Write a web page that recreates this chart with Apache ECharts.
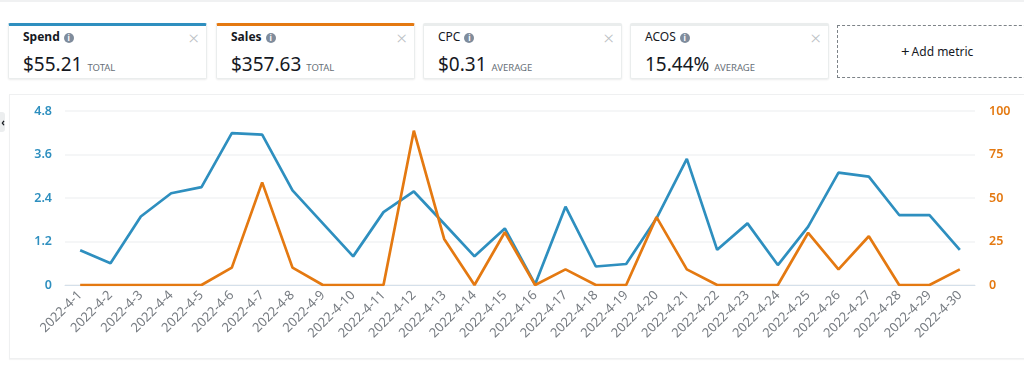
<!DOCTYPE html>
<html>
<head>
<meta charset="utf-8">
<script src="https://cdn.jsdelivr.net/npm/echarts@6/dist/echarts.min.js"></script>
<style>
	html, body { margin: 0; padding: 0; background: #fff; overflow: hidden; }
	body { width: 1024px; height: 375px; position: relative; font-family: "Noto Sans", sans-serif; color: #16191f; }
	#topLine { position: absolute; left: 0; top: 0; width: 1024px; height: 2px; background: #f0f1f2; }
	.card { position: absolute; top: 23px; width: 199px; height: 56px; box-sizing: border-box; background: #fff; border-radius: 2px; border: 1px solid #eaeded; border-top: 3px solid #eaeded; box-shadow: 0 1px 2px rgba(0,0,0,.08); }
	.card .name { position: absolute; left: 14px; top: 1px; font-size: 12px; line-height: 20px; white-space: nowrap; }
	.card .name i { display: inline-block; width: 10px; height: 10px; line-height: 10px; margin-left: 4px; border-radius: 50%; background: #7f8c9c; color: #fff; font-size: 8px; font-style: normal; text-align: center; font-weight: 700; vertical-align: 0; }
	.card .close { position: absolute; right: 7px; top: 2px; font-size: 19px; font-weight: 300; line-height: 20px; color: #bcc0c4; }
	.card .val { position: absolute; left: 14px; top: 25px; font-size: 19px; line-height: 26px; white-space: nowrap; }
	.card .val span { font-size: 9.5px; color: #687078; margin-left: 5px; }
	#addMetric { position: absolute; left: 837px; top: 25px; width: 200px; height: 53px; box-sizing: border-box; border: 1px dashed #7d8388; font-size: 12px; line-height: 51px; padding-left: 63px; }
	#addMetric b { font-size: 15px; font-weight: 400; margin-right: 2px; vertical-align: -1px; }
	#panel { position: absolute; left: 9px; top: 94px; width: 1030px; height: 265px; box-sizing: border-box; border: 1px solid #eff0f1; box-shadow: 0 1px 1px rgba(0,0,0,.04); }
	#myChart { position: absolute; left: 0; top: 0; width: 1024px; height: 375px; }
	#fold { position: absolute; left: -6px; top: 112px; width: 11px; height: 20px; background: #eceeef; border-radius: 3px; font-size: 10px; line-height: 20px; text-align: right; color: #16191f; font-weight: 700; }
</style>
</head>
<body>
	<div id="topLine"></div>
	<div id="cards"></div>
	<div id="addMetric"><b>+</b>Add metric</div>
	<div id="panel"></div>
	<div id="myChart"></div>
	<div id="fold">‹</div>

<script>
	var days = ['2022-4-1', '2022-4-2', '2022-4-3', '2022-4-4', '2022-4-5', '2022-4-6', '2022-4-7', '2022-4-8', '2022-4-9', '2022-4-10',
		'2022-4-11', '2022-4-12', '2022-4-13', '2022-4-14', '2022-4-15', '2022-4-16', '2022-4-17', '2022-4-18', '2022-4-19', '2022-4-20',
		'2022-4-21', '2022-4-22', '2022-4-23', '2022-4-24', '2022-4-25', '2022-4-26', '2022-4-27', '2022-4-28', '2022-4-29', '2022-4-30'];
	var spend = [0.96, 0.60, 1.89, 2.53, 2.70, 4.19, 4.15, 2.61, 1.70, 0.79,
		2.01, 2.58, 1.69, 0.79, 1.56, 0.02, 2.16, 0.51, 0.58, 1.84,
		3.48, 0.97, 1.70, 0.55, 1.61, 3.10, 2.99, 1.93, 1.93, 0.97];
	var sales = [0, 0, 0, 0, 0, 10, 59, 10, 0, 0,
		0, 88.7, 26.5, 0, 30.3, 0, 9, 0, 0, 39,
		9, 0, 0, 0, 30, 9, 28, 0, 0, 9];

	var metricNames = ['Spend', 'Sales', 'CPC', 'ACOS'];
	var metricValues = ['$55.21', '$357.63', '$0.31', '15.44%'];
	var metricKinds = ['TOTAL', 'TOTAL', 'AVERAGE', 'AVERAGE'];
	var metricLefts = [8, 216, 423, 630];

	var blue = '#2e8fbf';
	var orange = '#e47911';

	// 上面的四个指标卡片
	var html = '';
	for (var i = 0; i < metricNames.length; i++) {
		var topColor = i == 0 ? blue : (i == 1 ? orange : '#eaeded');
		var weight = i < 2 ? 700 : 400;
		html += '<div class="card" style="left:' + metricLefts[i] + 'px;border-top-color:' + topColor + '">'
			+ '<div class="name" style="font-weight:' + weight + '">' + metricNames[i] + '<i>i</i></div>'
			+ '<div class="close">×</div>'
			+ '<div class="val">' + metricValues[i] + '<span>' + metricKinds[i] + '</span></div>'
			+ '</div>';
	}
	document.getElementById('cards').innerHTML = html;

	var myChart = echarts.init(document.getElementById('myChart'));
	myChart.setOption({
		animation: false,
		grid: { left: 65, right: 49, top: 111, bottom: 90, containLabel: false },
		xAxis: {
			type: 'category',
			data: days,
			axisLine: { show: true, lineStyle: { color: '#d5e0ea', width: 1 } },
			axisTick: { show: false },
			axisLabel: { interval: 0, rotate: 45, margin: 8, color: '#777c82', fontSize: 13, fontFamily: 'Noto Sans' }
		},
		yAxis: [{
			type: 'value',
			min: 0,
			max: 4.8,
			interval: 1.2,
			axisLine: { show: false },
			axisTick: { show: false },
			splitLine: { lineStyle: { color: '#f2f3f4', width: 1.5 } },
			axisLabel: { margin: 13, color: blue, fontSize: 12.5, fontWeight: 600, fontFamily: 'Noto Sans' }
		}, {
			type: 'value',
			min: 0,
			max: 100,
			interval: 25,
			position: 'right',
			axisLine: { show: false },
			axisTick: { show: false },
			splitLine: { show: false },
			axisLabel: { margin: 14, color: orange, fontSize: 12.5, fontWeight: 600, fontFamily: 'Noto Sans' }
		}],
		series: [{
			name: 'Spend',
			type: 'line',
			yAxisIndex: 0,
			data: spend,
			symbol: 'none',
			lineStyle: { color: blue, width: 2.7 },
			itemStyle: { color: blue }
		}, {
			name: 'Sales',
			type: 'line',
			yAxisIndex: 1,
			data: sales,
			symbol: 'none',
			lineStyle: { color: orange, width: 2.7 },
			itemStyle: { color: orange }
		}]
	});
</script>
</body>
</html>
